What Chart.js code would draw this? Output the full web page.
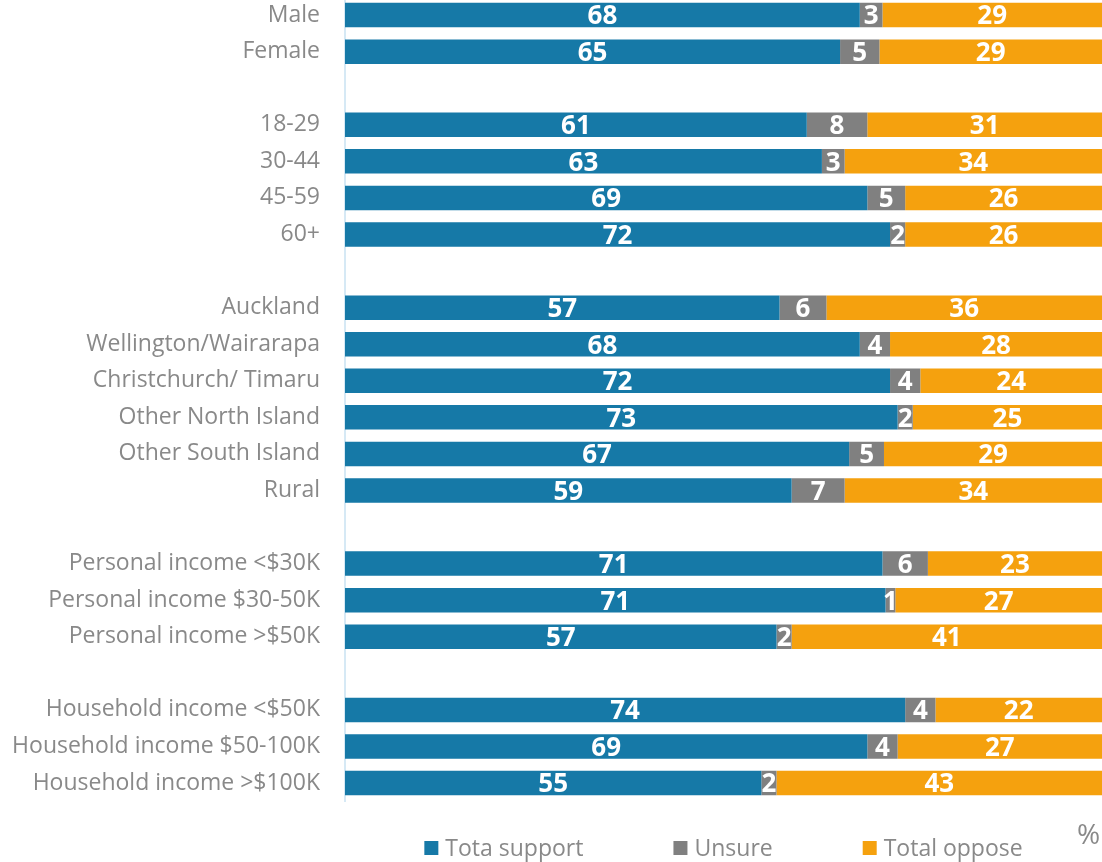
<!DOCTYPE html>
<html>
<head>
<meta charset="utf-8">
<script src="https://cdn.jsdelivr.net/npm/chart.js@4/dist/chart.umd.min.js"></script>
<style>
  html, body { margin: 0; padding: 0; background: #ffffff; overflow: hidden; }
  #wrap { position: absolute; left: 0; top: -42px; width: 1102px; height: 904px; }
</style>
</head>
<body>
<div id="wrap"><canvas id="c" width="1102" height="904"></canvas></div>
<script>
const categories = [
  'Male', 'Female', '',
  '18-29', '30-44', '45-59', '60+', '',
  'Auckland', 'Wellington/Wairarapa', 'Christchurch/ Timaru', 'Other North Island', 'Other South Island', 'Rural', '',
  'Personal income <$30K', 'Personal income $30-50K', 'Personal income >$50K', '',
  'Household income <$50K', 'Household income $50-100K', 'Household income >$100K'
];
// values (labels show them rounded)
const totalSupport = [68, 65.4, null, 61, 63, 69, 72, null, 57.4, 68, 72, 73, 66.6, 59, null, 71, 71.4, 57, null, 74, 69, 55];
const unsure       = [3, 5.2, null, 8, 3, 5, 2, null, 6.2, 4, 4, 2, 4.6, 7, null, 6, 1.3, 2, null, 4, 4, 2];
const totalOppose  = [29, 29.4, null, 31, 34, 26, 26, null, 36.4, 28, 24, 25, 28.8, 34, null, 23, 27.3, 41, null, 22, 27, 43];
const seriesNames  = ['Tota support', 'Unsure', 'Total oppose'];
const seriesColors = ['#1679A7', '#808080', '#F5A10E'];
const unitLabel = '%';

const FONT = "'Open Sans', 'Noto Sans', sans-serif";
const GREY = '#898989';

const valueLabels = {
  id: 'valueLabels',
  afterDatasetsDraw(chart) {
    const ctx = chart.ctx;
    ctx.save();
    ctx.font = "bold 26px " + FONT;
    ctx.fillStyle = '#ffffff';
    ctx.textAlign = 'center';
    ctx.textBaseline = 'middle';
    chart.data.datasets.forEach((ds, di) => {
      const meta = chart.getDatasetMeta(di);
      meta.data.forEach((el, i) => {
        const v = ds.data[i];
        if (v === null || v === undefined) return;
        const cx = (el.x + el.base) / 2;
        ctx.fillText(String(Math.round(v)), cx, el.y + 2);
      });
    });
    ctx.restore();
  }
};

const customLegend = {
  id: 'customLegend',
  afterDraw(chart) {
    const ctx = chart.ctx;
    const ca = chart.chartArea;
    ctx.save();
    ctx.font = "23px " + FONT;
    const box = 14, gapText = 7, gapItem = 90;
    const items = chart.data.datasets.map(ds => ({
      text: ds.label, color: ds.backgroundColor,
      w: box + gapText + ctx.measureText(ds.label).width
    }));
    const total = items.reduce((s, it) => s + it.w, 0) + gapItem * (items.length - 1);
    let x = (ca.left + ca.right) / 2 - total / 2;
    const cy = 890;
    ctx.textBaseline = 'middle';
    ctx.textAlign = 'left';
    items.forEach(it => {
      ctx.fillStyle = it.color;
      ctx.fillRect(x, cy - box / 2, box, box);
      ctx.fillStyle = GREY;
      ctx.fillText(it.text, x + box + gapText, cy + 1);
      x += it.w + gapItem;
    });
    ctx.font = "28px " + FONT;
    ctx.fillStyle = GREY;
    ctx.textAlign = 'left';
    ctx.fillText(unitLabel, 1077, 878);
    ctx.restore();
  }
};

new Chart(document.getElementById('c'), {
  type: 'bar',
  data: {
    labels: categories,
    datasets: [
      { label: seriesNames[0], data: totalSupport, backgroundColor: seriesColors[0] },
      { label: seriesNames[1], data: unsure, backgroundColor: seriesColors[1] },
      { label: seriesNames[2], data: totalOppose, backgroundColor: seriesColors[2] }
    ]
  },
  options: {
    indexAxis: 'y',
    responsive: false,
    animation: false,
    devicePixelRatio: 1,
    layout: { padding: { top: 15.7, bottom: 60.7, left: 0, right: 0 } },
    datasets: { bar: { barPercentage: 0.67, categoryPercentage: 1, borderWidth: 0 } },
    plugins: { legend: { display: false }, tooltip: { enabled: false } },
    scales: {
      x: { stacked: true, min: 0, max: 100, display: false },
      y: {
        stacked: true,
        grid: { display: false, drawTicks: false },
        border: { display: true, color: '#d6e9f5', width: 2 },
        ticks: { color: GREY, font: { family: FONT, size: 23 }, padding: 25, autoSkip: false },
        afterFit(scale) { scale.width = 345; }
      }
    }
  },
  plugins: [valueLabels, customLegend]
});
</script>
</body>
</html>
